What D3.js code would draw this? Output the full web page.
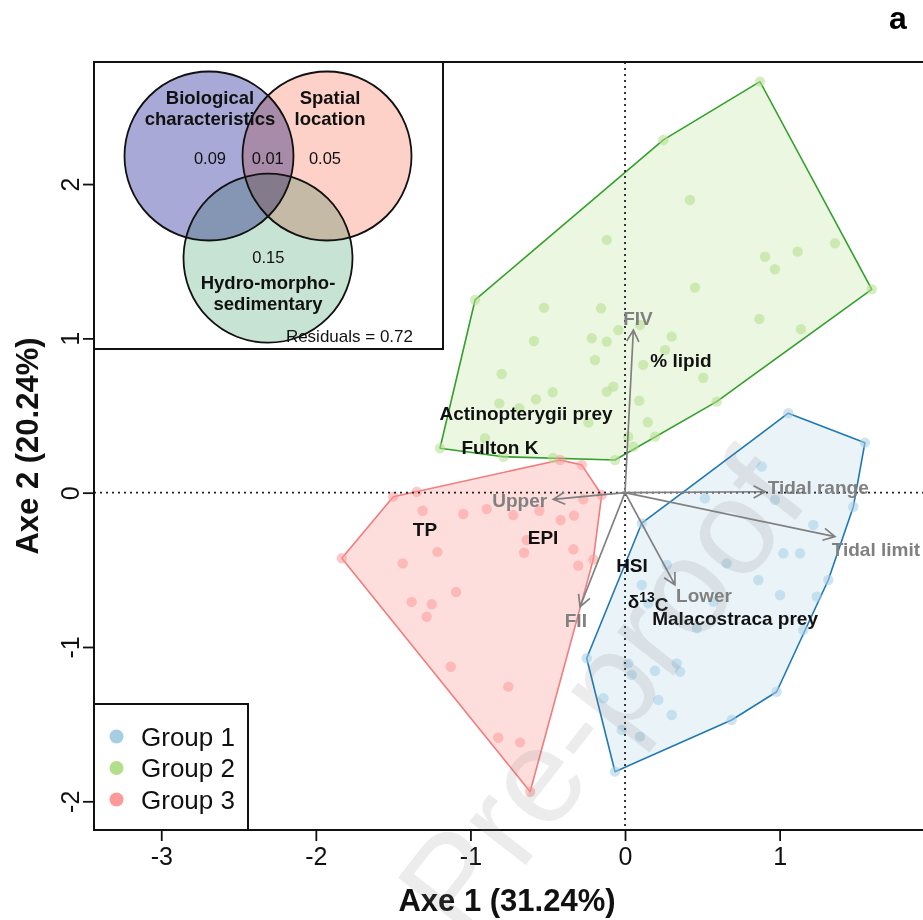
<!DOCTYPE html>
<html>
<head>
<meta charset="utf-8">
<script src="https://cdn.jsdelivr.net/npm/d3@7"></script>
<style>
  body { margin: 0; background: #fff; }
  svg { display: block; }
  text { font-family: "Liberation Sans", Arial, Helvetica, sans-serif; }
</style>
</head>
<body>
<svg id="chart" width="923" height="920"></svg>
<script>
// ---- Site scores on the first two axes, one list per cluster ----
const groupNames = ["Group 1", "Group 2", "Group 3"];

const group1 = [
  [1.056, 0.515], [1.552, 0.324], [0.884, 0.169], [0.517, -0.036], [0.970, -0.047],
  [1.477, -0.091], [1.218, -0.209], [0.108, -0.198], [1.024, -0.393], [1.132, -0.393],
  [0.658, -0.458], [0.862, -0.566], [1.315, -0.566], [0.270, -0.469], [0.108, -0.598],
  [1.003, -0.663], [1.240, -0.674], [0.571, -0.706], [0.151, -0.717], [0.464, -0.879],
  [1.153, -0.890], [-0.248, -1.073], [0.021, -1.106], [0.334, -1.106], [0.356, -1.160],
  [0.043, -1.181], [0.194, -1.154], [-0.140, -1.332], [0.215, -1.343], [0.302, -1.441],
  [0.981, -1.290], [0.690, -1.473], [-0.021, -1.538], [0.097, -1.581], [-0.065, -1.808]
];

const group2 = [
  [0.873, 2.664], [0.248, 2.286], [0.420, 1.897], [-0.118, 1.638], [1.358, 1.616],
  [0.906, 1.529], [0.970, 1.448], [1.117, 1.562], [1.596, 1.318], [0.453, 1.329],
  [-0.970, 1.249], [-0.524, 1.199], [-0.155, 1.195], [0.869, 1.126], [1.138, 1.059],
  [0.097, 1.087], [-0.043, 1.054], [0.302, 1.011], [-0.589, 0.983], [-0.215, 1.001],
  [-0.118, 0.979], [0.259, 0.925], [0.118, 0.828], [-0.194, 0.860], [-0.798, 0.769],
  [0.506, 0.745], [-0.468, 0.651], [-0.576, 0.605], [-0.076, 0.687], [-0.118, 0.655],
  [-0.813, 0.579], [-0.684, 0.547], [0.092, 0.596], [0.593, 0.590], [0.147, 0.456],
  [-0.237, 0.454], [0.194, 0.363], [0.021, 0.363], [0.054, 0.298], [-0.065, 0.212],
  [-0.906, 0.353], [-1.197, 0.288], [-0.787, 0.233], [-0.466, 0.225]
];

const group3 = [
  [-0.420, 0.212], [-0.280, 0.180], [-0.151, -0.015], [-0.270, -0.043], [-1.347, 0.006],
  [-1.499, -0.026], [-1.309, -0.117], [-1.046, -0.138], [-0.895, -0.106], [-0.723, -0.145],
  [-0.554, -0.117], [-0.416, -0.177], [-0.330, -0.149], [-0.636, -0.307], [-0.653, -0.389],
  [-0.334, -0.367], [-1.214, -0.384], [-1.832, -0.425], [-1.438, -0.458], [-0.302, -0.473],
  [-0.205, -0.432], [-1.093, -0.644], [-1.380, -0.708], [-1.250, -0.723], [-1.283, -0.804],
  [-1.127, -1.128], [-0.755, -1.257], [-0.820, -1.588], [-0.679, -1.618], [-0.614, -1.938]
];

// ---- Active variables (arrows) ----
const arrowNames  = ["FIV", "Upper", "FII", "Lower", "Tidal range", "Tidal limit"];
const arrowX      = [0.054, -0.464, -0.291, 0.323, 0.906, 1.358];
const arrowY      = [1.054, -0.043, -0.739, -0.598, 0.006, -0.285];
const arrowLabelX = [0.084, -0.681, -0.318, 0.511, 0.923, 1.337];
const arrowLabelY = [1.131, -0.047, -0.825, -0.663, 0.035, -0.367];
const arrowAnchor = ["middle", "middle", "middle", "middle", "start", "start"];

// ---- Supplementary variables (labels only) ----
const passiveNames = ["% lipid", "Actinopterygii prey", "Fulton K", "TP", "EPI", "HSI", "δ13C", "Malacostraca prey"];
const passiveX     = [0.362, -0.640, -0.809, -1.294, -0.530, 0.045, 0.149, 0.712];
const passiveY     = [0.860, 0.515, 0.296, -0.235, -0.287, -0.469, -0.706, -0.812];

// ---- Axis ticks and titles ----
const xTicks = [-3, -2, -1, 0, 1];
const yTicks = [-2, -1, 0, 1, 2];
const xTitle = "Axe 1 (31.24%)";
const yTitle = "Axe 2 (20.24%)";
const panelLetter = "a";

// ---- Variation partitioning ----
const vennSetLines = [["Biological", "characteristics"], ["Spatial", "location"], ["Hydro-morpho-", "sedimentary"]];
const vennUnique   = [0.09, 0.05, 0.15];
const vennShared   = [0.01];
const vennResidual = 0.72;

// ---------------------------------------------------------------
const svg = d3.select("#chart");
const X0 = 94, X1 = 924, Y0 = 62, Y1 = 830;

const x = d3.scaleLinear().domain([-3.435, 1.934]).range([X0, X1]);
const y = d3.scaleLinear().domain([-2.186, 2.791]).range([Y1, Y0]);

const groupFill = ["#a6cee3", "#b2df8a", "#fb9a99"];
const groupLine = ["#1f78b4", "#33a02c", "#f07c7c"];
const hullOpacity = [0.25, 0.25, 0.33];
const groups = [group1, group2, group3];

svg.append("defs").append("clipPath").attr("id", "plotClip")
  .append("rect").attr("x", X0).attr("y", Y0).attr("width", X1 - X0).attr("height", Y1 - Y0);

const plot = svg.append("g").attr("clip-path", "url(#plotClip)");

// convex hulls
groups.forEach((pts, i) => {
  const hull = d3.polygonHull(pts.map(p => [x(p[0]), y(p[1])]));
  plot.append("path")
    .attr("d", "M" + hull.join("L") + "Z")
    .attr("fill", groupFill[i])
    .attr("fill-opacity", hullOpacity[i])
    .attr("stroke", groupLine[i])
    .attr("stroke-width", 1.6)
    .attr("stroke-linejoin", "round");
});

// individual points
groups.forEach((pts, i) => {
  plot.append("g").selectAll("circle").data(pts).join("circle")
    .attr("cx", d => x(d[0]))
    .attr("cy", d => y(d[1]))
    .attr("r", 5.2)
    .attr("fill", groupFill[i])
    .attr("fill-opacity", 0.55);
});

// zero reference lines
plot.append("line").attr("x1", x(0)).attr("x2", x(0)).attr("y1", Y0).attr("y2", Y1)
  .attr("stroke", "#222").attr("stroke-width", 1.8).attr("stroke-dasharray", "2,4");
plot.append("line").attr("x1", X0).attr("x2", X1).attr("y1", y(0)).attr("y2", y(0))
  .attr("stroke", "#222").attr("stroke-width", 1.8).attr("stroke-dasharray", "2,4");

// arrows of active variables
const arrowColor = "#808080";
const headLen = 13, headAng = 28 * Math.PI / 180;
const arrows = svg.append("g").attr("stroke", arrowColor).attr("stroke-width", 1.7).attr("fill", "none");
arrowNames.forEach((name, i) => {
  const ox = x(0), oy = y(0), tx = x(arrowX[i]), ty = y(arrowY[i]);
  const a = Math.atan2(ty - oy, tx - ox);
  const p1 = [tx - headLen * Math.cos(a - headAng), ty - headLen * Math.sin(a - headAng)];
  const p2 = [tx - headLen * Math.cos(a + headAng), ty - headLen * Math.sin(a + headAng)];
  arrows.append("path").attr("d", `M${ox},${oy}L${tx},${ty}M${p1[0]},${p1[1]}L${tx},${ty}L${p2[0]},${p2[1]}`);
});
svg.append("g").selectAll("text").data(arrowNames).join("text")
  .attr("x", (d, i) => x(arrowLabelX[i]))
  .attr("y", (d, i) => y(arrowLabelY[i]))
  .attr("dy", "0.36em")
  .attr("text-anchor", (d, i) => arrowAnchor[i])
  .attr("font-size", 19).attr("font-weight", "bold")
  .attr("fill", arrowColor)
  .text(d => d);

// supplementary variable labels
const passive = svg.append("g").attr("font-size", 19).attr("font-weight", "bold").attr("fill", "#111");
passiveNames.forEach((name, i) => {
  const t = passive.append("text")
    .attr("x", x(passiveX[i])).attr("y", y(passiveY[i]))
    .attr("dy", "0.36em").attr("text-anchor", "middle");
  if (name.startsWith("δ13")) {
    t.append("tspan").text("δ");
    t.append("tspan").attr("dy", "-0.45em").attr("font-size", 14).text("13");
    t.append("tspan").attr("dy", "0.45em").text(name.slice(3));
  } else {
    t.text(name);
  }
});

// plot frame
svg.append("rect").attr("x", X0).attr("y", Y0).attr("width", X1 - X0).attr("height", Y1 - Y0)
  .attr("fill", "none").attr("stroke", "#111").attr("stroke-width", 2);

// axes
const fmt = d => String(d);
const xAxis = svg.append("g").attr("transform", `translate(0,${Y1})`)
  .call(d3.axisBottom(x).tickValues(xTicks).tickFormat(fmt).tickSize(11).tickPadding(6));
xAxis.select(".domain").remove();
xAxis.selectAll("line").attr("stroke", "#111").attr("stroke-width", 1.8);
xAxis.selectAll("text").attr("font-size", 25).attr("fill", "#111").attr("font-family", "Liberation Sans, Arial, sans-serif");

const yAxis = svg.append("g").attr("transform", `translate(${X0},0)`)
  .call(d3.axisLeft(y).tickValues(yTicks).tickFormat(fmt).tickSize(11));
yAxis.select(".domain").remove();
yAxis.selectAll("line").attr("stroke", "#111").attr("stroke-width", 1.8);
yAxis.selectAll("text")
  .attr("transform", "rotate(-90)")
  .attr("x", 0).attr("y", -15).attr("dy", 0)
  .attr("text-anchor", "middle")
  .attr("font-size", 25).attr("fill", "#111").attr("font-family", "Liberation Sans, Arial, sans-serif");

svg.append("text").attr("x", (X0 + 920) / 2).attr("y", 911)
  .attr("text-anchor", "middle").attr("font-size", 31).attr("font-weight", "bold").attr("fill", "#111")
  .text(xTitle);
svg.append("text").attr("transform", `translate(38,${(Y0 + Y1) / 2}) rotate(-90)`)
  .attr("text-anchor", "middle").attr("font-size", 31).attr("font-weight", "bold").attr("fill", "#111")
  .text(yTitle);
svg.append("text").attr("x", 898).attr("y", 29)
  .attr("text-anchor", "middle").attr("font-size", 32).attr("font-weight", "bold").attr("fill", "#000")
  .text(panelLetter);

// legend
const legend = svg.append("g");
legend.append("rect").attr("x", X0).attr("y", 704).attr("width", 154).attr("height", Y1 - 704)
  .attr("fill", "#fff").attr("stroke", "#111").attr("stroke-width", 2);
groupNames.forEach((g, i) => {
  const cy = 736.5 + i * 31.5;
  legend.append("circle").attr("cx", 116.5).attr("cy", cy).attr("r", 7).attr("fill", groupFill[i]);
  legend.append("text").attr("x", 141).attr("y", cy).attr("dy", "0.36em")
    .attr("font-size", 26).attr("fill", "#111").text(g);
});

// variation partitioning inset
const inset = svg.append("g").attr("transform", `translate(${X0},${Y0})`);
inset.append("rect").attr("width", 349).attr("height", 287)
  .attr("fill", "#fff").attr("stroke", "#111").attr("stroke-width", 2);
const side = 118, vr = 84.5;
const vx = d3.scaleLinear().domain([-0.5, 0.5]).range([174 - side / 2, 174 + side / 2]);
const vy = d3.scaleLinear().domain([0, 1]).range([94, 94 + side]);
const vennCenters = [[-0.5, 0], [0.5, 0], [0, Math.sqrt(3) / 2]];
const vennColors = ["#a9a9d8", "#fdd1c8", "#c7e3d3"];
const blend = inset.append("g").style("isolation", "isolate");
vennCenters.forEach((c, i) => {
  blend.append("circle").attr("cx", vx(c[0])).attr("cy", vy(c[1])).attr("r", vr)
    .attr("fill", vennColors[i]).style("mix-blend-mode", "multiply");
});
vennCenters.forEach(c => {
  inset.append("circle").attr("cx", vx(c[0])).attr("cy", vy(c[1])).attr("r", vr)
    .attr("fill", "none").attr("stroke", "#111").attr("stroke-width", 1.8);
});
const setLabelPos = [[116, 35], [236, 35], [174, 220]];
vennSetLines.forEach((lines, i) => {
  const t = inset.append("text").attr("text-anchor", "middle")
    .attr("font-size", 18.5).attr("font-weight", "bold").attr("fill", "#111");
  lines.forEach((l, j) => t.append("tspan").attr("x", setLabelPos[i][0])
    .attr("y", setLabelPos[i][1] + j * 21.6).attr("dy", "0.36em").text(l));
});
const fracLabels = [
  { v: vennUnique[0], p: [116, 96] },
  { v: vennShared[0], p: [173.7, 96] },
  { v: vennUnique[1], p: [231, 96] },
  { v: vennUnique[2], p: [174.3, 195] }
];
inset.append("g").selectAll("text").data(fracLabels).join("text")
  .attr("x", d => d.p[0]).attr("y", d => d.p[1]).attr("dy", "0.36em")
  .attr("text-anchor", "middle").attr("font-size", 16.5).attr("fill", "#111")
  .text(d => d.v.toFixed(2));
inset.append("text").attr("x", 319).attr("y", 274).attr("dy", "0.36em")
  .attr("text-anchor", "end").attr("font-size", 17).attr("fill", "#111")
  .text("Residuals = " + vennResidual.toFixed(2));

// faint "Journal Pre-proof" overprint
svg.append("text")
  .attr("transform", "translate(490,911) rotate(-52)")
  .attr("text-anchor", "middle")
  .attr("font-size", 135)
  .attr("fill", "#808080").attr("fill-opacity", 0.15)
  .text("Journal Pre-proof");
</script>
</body>
</html>
